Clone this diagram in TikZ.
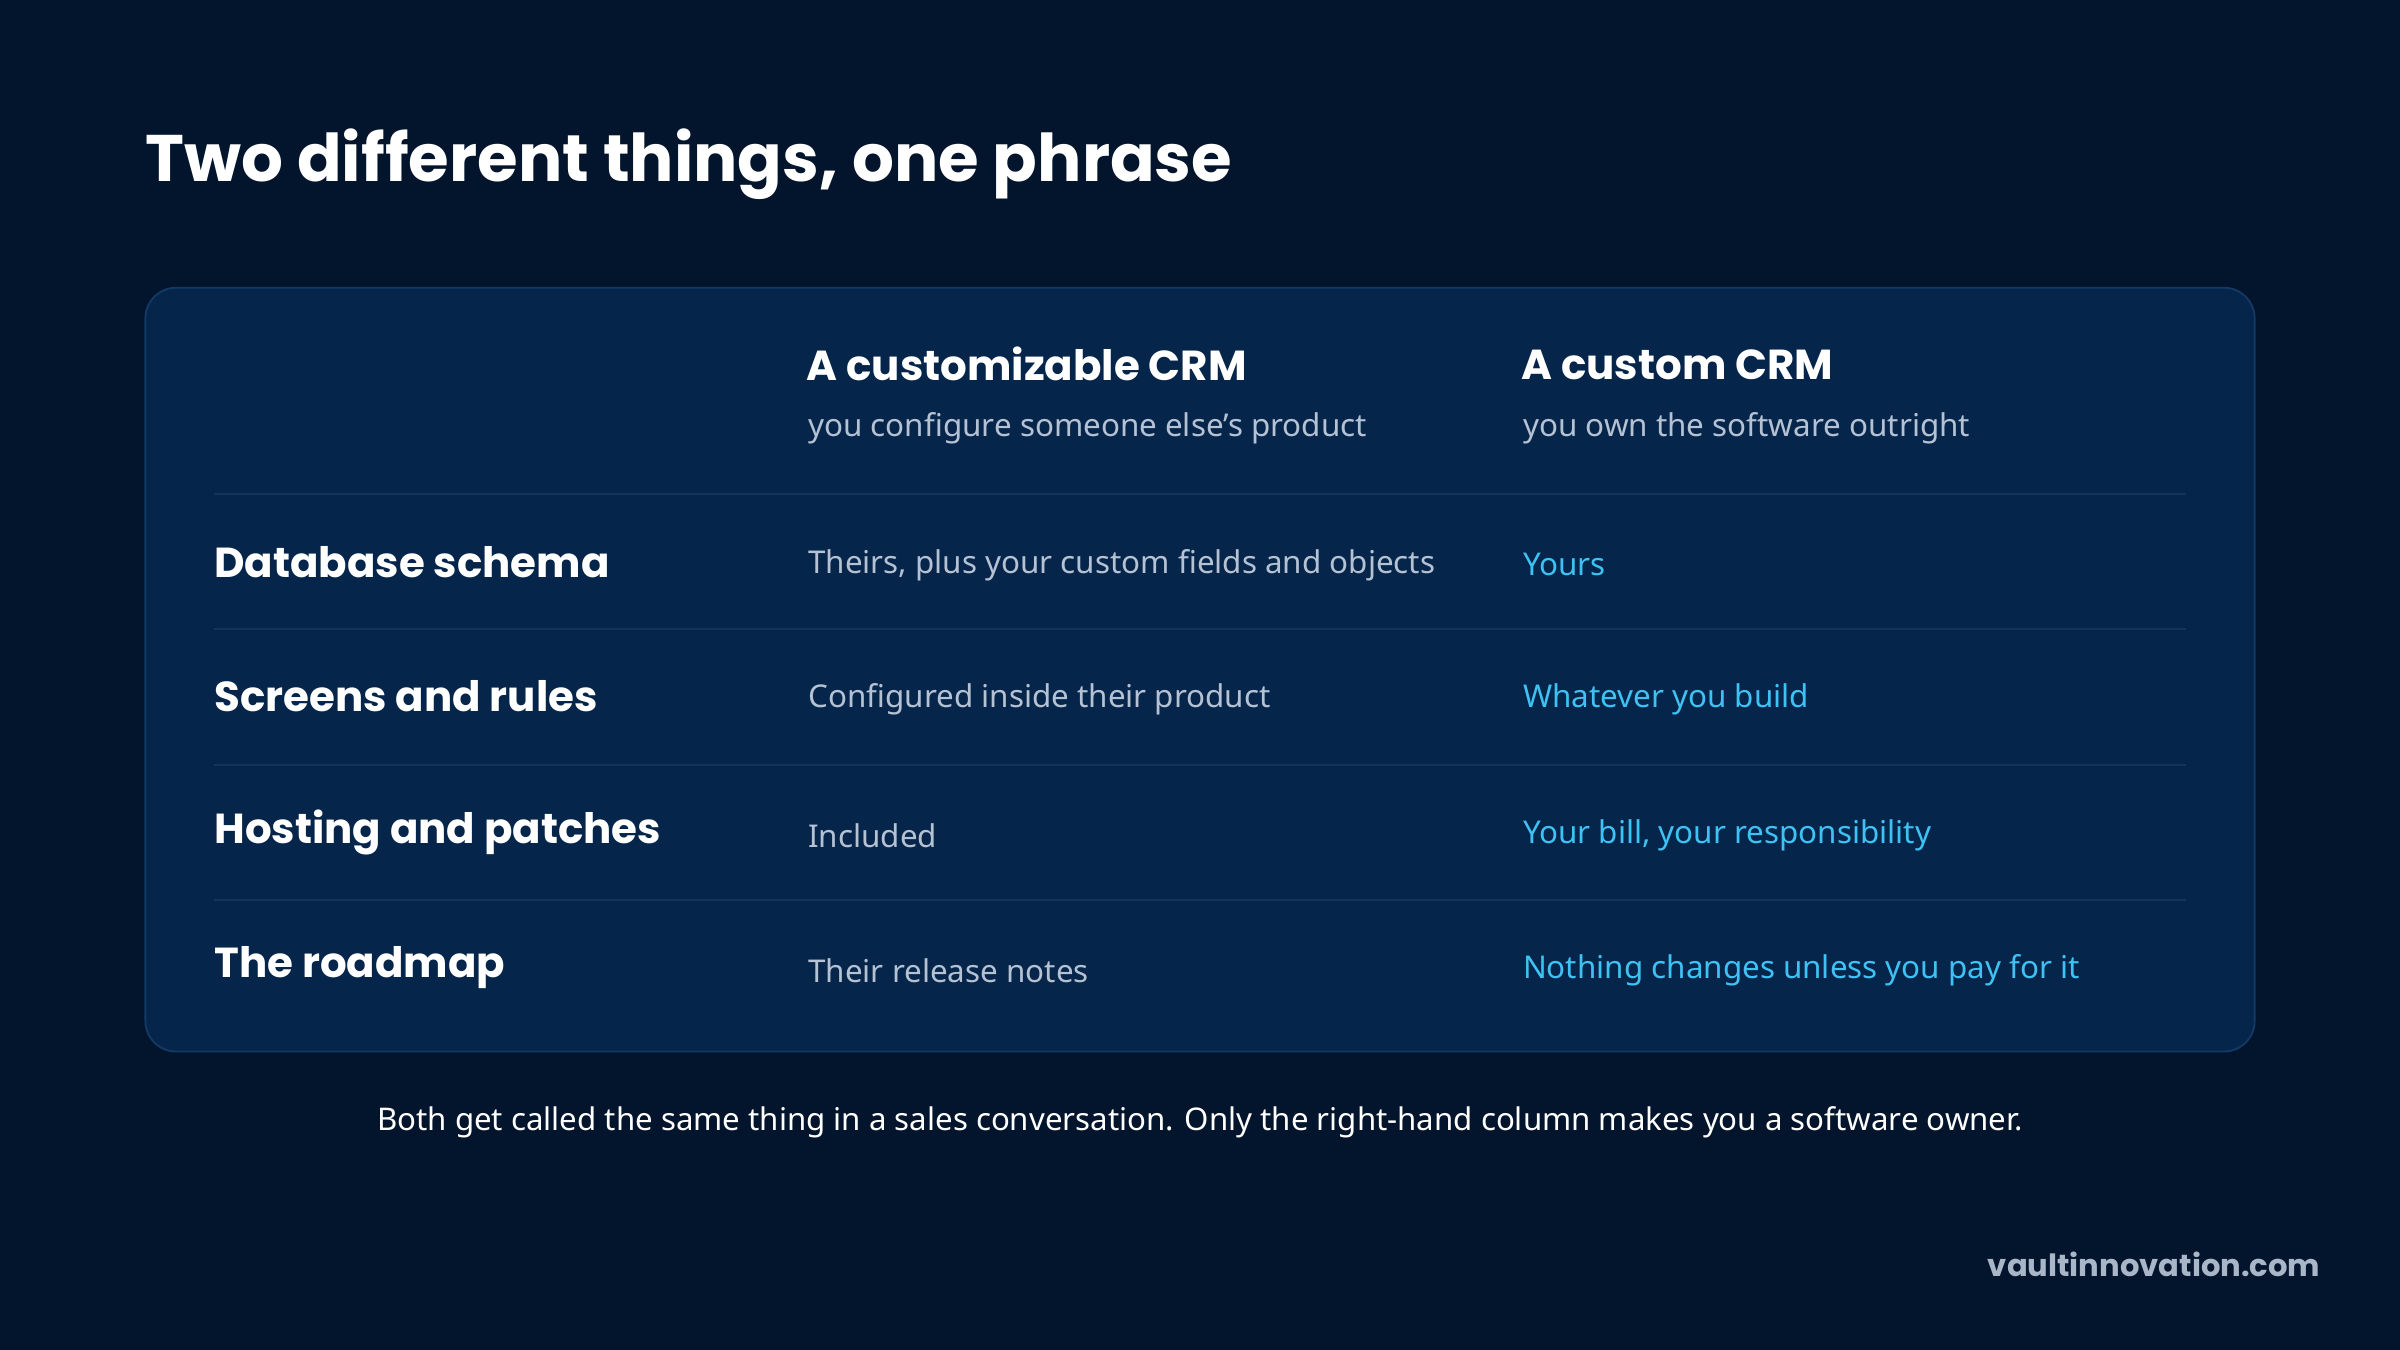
\documentclass[tikz,border=0pt]{standalone}
\usepackage{fontspec}
\setmainfont{Noto Sans}
\newfontfamily\pop{Poppins}
\definecolor{bg}{HTML}{03152C}
\definecolor{panel}{HTML}{06254A}
\definecolor{pborder}{HTML}{123A66}
\definecolor{sep}{HTML}{143459}
\definecolor{gray}{HTML}{B4C2D4}
\definecolor{cyan}{HTML}{3EC1F3}
\definecolor{dom}{HTML}{A9B6C8}
\begin{document}
\begin{tikzpicture}[x=0.5pt,y=-0.5pt,
  rowl/.style={anchor=west,text=white,font=\pop\bfseries\fontsize{13.7}{16}\selectfont},
  head/.style={anchor=west,text=white,font=\pop\bfseries\fontsize{13.7}{16}\selectfont},
  sub/.style={anchor=west,text=gray,font=\fontsize{10.25}{12}\selectfont},
  mid/.style={anchor=west,text=gray,font=\fontsize{10.25}{12}\selectfont},
  cy/.style={anchor=west,text=cyan,font=\fontsize{10.25}{12}\selectfont}]
\fill[bg] (0,0) rectangle (1568,882);
\useasboundingbox (0,0) rectangle (1568,882);
\node[anchor=west,text=white,font=\pop\bfseries\fontsize{21.5}{24}\selectfont] (title) at (88,107) {Two different things, one phrase};
\draw[pborder,fill=panel,line width=0.6pt,rounded corners=10pt] (95,188) rectangle (1473,687);
\node[head] (h1) at (520,238) {A customizable CRM};
\node[sub] (s1) at (521,280) {you configure someone else’s product};
\node[head] (h2) at (987,238) {A custom CRM};
\node[sub] (s2) at (988,280) {you own the software outright};
\foreach \y in {323,411,500,588} \draw[sep,line width=0.6pt] (140,\y) -- (1428,\y);
\node[rowl] (r1) at (133,367) {Database schema};
\node[mid] (m1) at (521,369) {Theirs, plus your custom fields and objects};
\node[cy] (c1) at (988,369) {Yours};
\node[rowl] (r2) at (133,455) {Screens and rules};
\node[mid] (m2) at (521,457) {Configured inside their product};
\node[cy] (c2) at (988,457) {Whatever you build};
\node[rowl] (r3) at (133,544) {Hosting and patches};
\node[mid] (m3) at (521,546) {Included};
\node[cy] (c3) at (988,546) {Your bill, your responsibility};
\node[rowl] (r4) at (133,632) {The roadmap};
\node[mid] (m4) at (521,634) {Their release notes};
\node[cy] (c4) at (988,634) {Nothing changes unless you pay for it};
\node[text=white,font=\fontsize{10.2}{12}\selectfont] (foot) at (784,733) {Both get called the same thing in a sales conversation. Only the right-hand column makes you a software owner.};
\node[anchor=east,text=dom,font=\pop\fontseries{sb}\fontsize{10}{12}\selectfont] (domain) at (1523,826) {vaultinnovation.com};
\end{tikzpicture}
\end{document}
